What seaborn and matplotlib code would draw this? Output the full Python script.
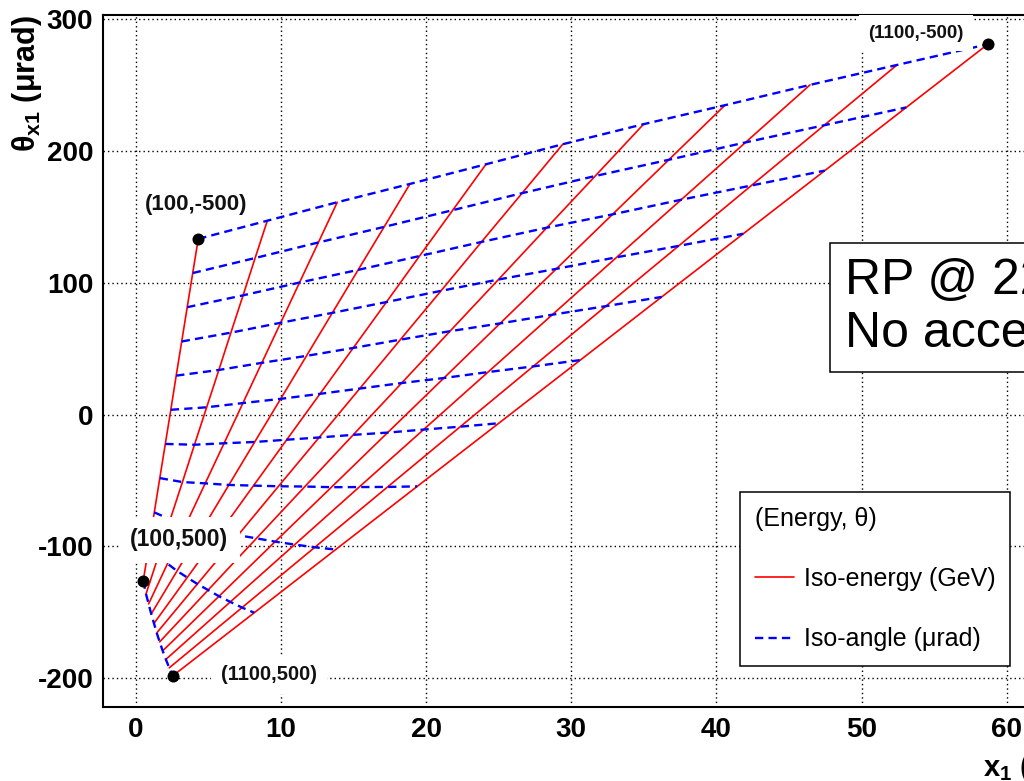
import numpy as np
import pandas as pd
import matplotlib
matplotlib.use("Agg")
import matplotlib.pyplot as plt
import seaborn as sns
from matplotlib.lines import Line2D
from matplotlib.ticker import MultipleLocator

# ---------------- data ----------------
energies = [100, 200, 300, 400, 500, 600, 700, 800, 900, 1000, 1100]   # GeV
angles = [500, 400, 300, 200, 100, 0, -100, -200, -300, -400, -500]    # murad

# x1 (mm): one row per angle, one column per energy
x_grid = [
    [0.50, 0.69, 0.87, 1.05, 1.24, 1.43, 1.63, 1.84, 2.06, 2.29, 2.53],
    [0.88, 1.53, 2.17, 2.83, 3.53, 4.23, 4.97, 5.72, 6.50, 7.31, 8.15],
    [1.26, 2.36, 3.47, 4.62, 5.82, 7.03, 8.30, 9.59, 10.94, 12.32, 13.76],
    [1.64, 3.20, 4.77, 6.40, 8.10, 9.82, 11.64, 13.47, 15.38, 17.34, 19.38],
    [2.02, 4.03, 6.07, 8.18, 10.39, 12.62, 14.97, 17.34, 19.82, 22.35, 25.00],
    [2.40, 4.87, 7.37, 9.97, 12.68, 15.42, 18.31, 21.22, 24.26, 27.37, 30.62],
    [2.77, 5.71, 8.67, 11.75, 14.97, 18.22, 21.64, 25.09, 28.69, 32.38, 36.23],
    [3.15, 6.54, 9.97, 13.53, 17.26, 21.02, 24.98, 28.97, 33.13, 37.40, 41.85],
    [3.53, 7.38, 11.27, 15.31, 19.54, 23.81, 28.31, 32.84, 37.57, 42.41, 47.47],
    [3.91, 8.21, 12.57, 17.10, 21.83, 26.61, 31.65, 36.72, 42.01, 47.43, 53.08],
    [4.29, 9.05, 13.87, 18.88, 24.12, 29.41, 34.98, 40.59, 46.45, 52.44, 58.70],
]
# theta_x1 (murad): one row per angle, one column per energy
y_grid = [
    [-126.0, -136.1, -143.6, -151.2, -158.4, -165.6, -172.4, -179.2, -185.7, -192.1, -198.2],
    [-100.1, -107.8, -113.1, -118.6, -123.6, -128.5, -133.1, -137.8, -142.1, -146.4, -150.3],
    [-74.2, -79.5, -82.7, -86.0, -88.8, -91.5, -93.9, -96.4, -98.6, -100.7, -102.4],
    [-48.2, -51.2, -52.2, -53.4, -53.9, -54.4, -54.6, -55.1, -55.0, -54.9, -54.5],
    [-22.3, -22.9, -21.8, -20.8, -19.1, -17.4, -15.4, -13.7, -11.4, -9.2, -6.6],
    [3.6, 5.5, 8.7, 11.9, 15.7, 19.7, 23.9, 27.7, 32.2, 36.5, 41.3],
    [29.5, 33.8, 39.2, 44.5, 50.5, 56.8, 63.2, 69.1, 75.7, 82.2, 89.2],
    [55.4, 62.1, 69.6, 77.1, 85.3, 93.8, 102.4, 110.5, 119.3, 127.9, 137.1],
    [81.4, 90.4, 100.1, 109.7, 120.2, 130.9, 141.7, 151.8, 162.9, 173.7, 185.0],
    [107.3, 118.7, 130.5, 142.3, 155.0, 167.9, 180.9, 193.2, 206.4, 219.4, 232.9],
    [133.2, 147.0, 161.0, 174.9, 189.8, 205.0, 220.2, 234.6, 250.0, 265.1, 280.8],
]

x_ticks = [0, 10, 20, 30, 40, 50, 60]
y_ticks = [-200, -100, 0, 100, 200, 300]
x_title = r"x$_{\mathbf{1}}$ (mm)"
y_title = r"θ$_{\mathbf{x1}}$ (μrad)"
legend_title = "(Energy, θ)"
legend_labels = ["Iso-energy (GeV)", "Iso-angle (μrad)"]
box_text = "RP @ 220m\nNo acceptance"

# ---------------- table ----------------
rows = []
for ai, ang in enumerate(angles):
    for ei, en in enumerate(energies):
        rows.append(dict(energy=en, angle=ang, x=x_grid[ai][ei], y=y_grid[ai][ei]))
df = pd.DataFrame(rows)

# ---------------- style ----------------
sns.set_theme(style="white")
plt.rcParams['font.family'] = ['Liberation Sans', 'DejaVu Sans']
plt.rcParams['axes.unicode_minus'] = False
plt.rcParams['mathtext.fontset'] = 'custom'
plt.rcParams['mathtext.rm'] = 'Liberation Sans'
plt.rcParams['mathtext.bf'] = 'Liberation Sans:bold'
plt.rcParams['mathtext.it'] = 'Liberation Sans:italic'
plt.rcParams['text.color'] = 'black'
plt.rcParams['axes.labelcolor'] = 'black'

RED = '#ff0000'
BLUE = '#0000ff'
DASH = (0, (3.5, 2.2))

fig = plt.figure(figsize=(10.24, 7.81), dpi=100)
ax = fig.add_axes([103 / 1024, 1 - 707 / 781, (1095 - 103) / 1024, (707 - 15) / 781])

iso_energy = df.sort_values(['energy', 'angle'], ascending=[True, False])
iso_angle = df.sort_values(['angle', 'energy'], ascending=[False, True])

sns.lineplot(data=iso_energy, x='x', y='y', units='energy', estimator=None, sort=False,
             color=RED, linewidth=1.2, ax=ax, legend=False, zorder=2)
sns.lineplot(data=iso_angle, x='x', y='y', units='angle', estimator=None, sort=False,
             color=BLUE, linewidth=1.7, linestyle=DASH, ax=ax, legend=False, zorder=2)

corners = df[df['energy'].isin([min(energies), max(energies)]) &
             df['angle'].isin([min(angles), max(angles)])]
sns.scatterplot(data=corners, x='x', y='y', color='black', s=75, edgecolor='black',
                linewidth=0, ax=ax, legend=False, zorder=4)

# corner labels: (energy, angle) -> (offset in pixels, fontsize, white box)
label_style = {
    (100, -500): ((-2, 34), 16, False),
    (100, 500): ((36, 41), 16.5, True),
    (1100, 500): ((96, 1.5), 14.5, True),
    (1100, -500): ((-72, 11), 13.5, True),
}
for _, r in corners.iterrows():
    off, fs, boxed = label_style[(int(r['energy']), int(r['angle']))]
    kw = {}
    if boxed:
        kw['bbox'] = dict(boxstyle='square,pad=0.5', fc='white', ec='none')
    ax.annotate(f"({int(r['energy'])},{int(r['angle'])})", xy=(r['x'], r['y']),
                xytext=off, textcoords='offset pixels', ha='center', va='center',
                fontsize=fs, fontweight='bold', color='#111111', zorder=7,
                annotation_clip=False, **kw)

# ---------------- axes ----------------
ax.set_xlim(-2.274, 66.09)
ax.set_ylim(-221.8, 303.0)
ax.set_xticks(x_ticks, labels=[str(v) for v in x_ticks], fontweight='bold')
ax.set_yticks(y_ticks, labels=[str(v) for v in y_ticks], fontweight='bold')
ax.xaxis.set_minor_locator(MultipleLocator(2))
ax.yaxis.set_minor_locator(MultipleLocator(20))
ax.tick_params(axis='both', which='both', direction='in', top=False, right=False,
               colors='black', labelcolor='black')
ax.tick_params(axis='y', which='major', length=19.5, width=1.1, pad=7, labelsize=20)
ax.tick_params(axis='y', which='minor', length=10, width=1.1)
ax.tick_params(axis='x', which='major', length=17, width=1.1, pad=7, labelsize=20)
ax.tick_params(axis='x', which='minor', length=8, width=1.1)

ax.set_axisbelow(True)
ax.grid(True, which='major', color='black', linestyle=(0, (1, 2.2)), linewidth=1.0)
for s in ['left', 'bottom', 'top', 'right']:
    ax.spines[s].set_visible(True)
    ax.spines[s].set_color('black')
    ax.spines[s].set_linewidth(1.5)

ax.set_xlabel(x_title, loc='right', fontsize=21, fontweight='bold')
ax.xaxis.set_label_coords(0.996, -0.065)
ax.set_ylabel(y_title, loc='top', fontsize=22, fontweight='bold', va='center')
ax.yaxis.set_label_coords(-0.0766, 1.0)

# ---------------- legend ----------------
handles = [Line2D([], [], color=RED, lw=1.2),
           Line2D([], [], color=BLUE, lw=1.7, linestyle=DASH)]
leg = ax.legend(handles, legend_labels, title=legend_title, loc='upper left',
                bbox_to_anchor=(0.6421, 0.3107), borderaxespad=0, fontsize=18,
                title_fontsize=18, frameon=True, fancybox=False, edgecolor='black',
                facecolor='white', framealpha=1, borderpad=0.6, labelspacing=1.45,
                handlelength=1.55, handletextpad=0.4, alignment='left')
leg.get_frame().set_linewidth(1.1)
leg.set_zorder(6)

# ---------------- RP box ----------------
ax.text(0.748, 0.6488, box_text, transform=ax.transAxes, ha='left', va='top',
        fontsize=36, linespacing=1.18, color='black', zorder=6,
        bbox=dict(boxstyle='square,pad=0.3', fc='white', ec='black', lw=1.1))

fig.savefig('out.png', dpi=100)
